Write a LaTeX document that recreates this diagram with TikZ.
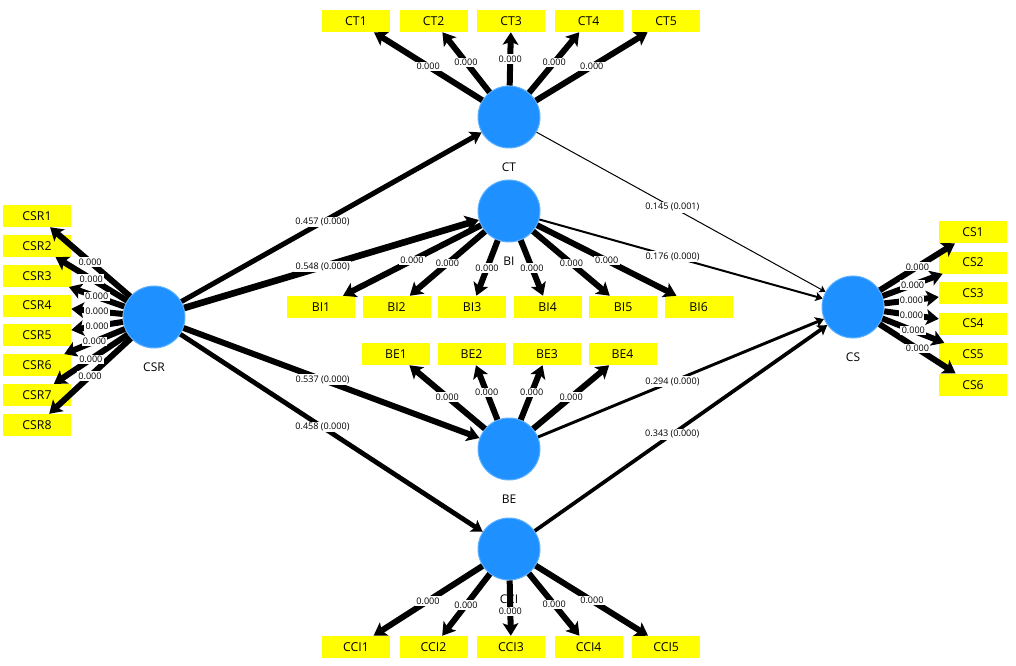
\documentclass[tikz,border=0pt]{standalone}
\usepackage{fontspec}
\setmainfont{Open Sans}
\usetikzlibrary{positioning,arrows.meta}

\definecolor{lvblue}{RGB}{30,144,255}
\definecolor{lvrim}{RGB}{95,178,255}
\definecolor{mvyellow}{RGB}{255,255,0}

\begin{document}
\begin{tikzpicture}[x=0.75pt, y=-0.75pt,
  lv/.style={circle,fill=lvblue,draw=lvrim,line width=0.75pt,minimum size=46.5pt,inner sep=0pt,
    label={[label distance=7.5pt,font=\fontsize{9}{10}\selectfont]below:#1}},
  mv/.style={rectangle,fill=mvyellow,minimum width=51pt,minimum height=16.5pt,inner sep=0pt,
    font=\fontsize{9.2}{10}\selectfont},
  tip/.style={-{Stealth[length=3.5pt 1.3,width=4.5pt 1.6,inset=0.8pt 0.3]}},
  ld/.style={tip,line width=4.5pt},
  val/.style={fill=white,inner sep=1pt,font=\fontsize{6.8}{7}\selectfont},
  tags/.style={every edge/.style={}}]
\useasboundingbox (0,0) rectangle (1016,666);
\node[lv=CSR] (CSR) at (154,317) {};
\node[lv=CT]  (CT)  at (509,117) {};
\node[lv=BI]  (BI)  at (509,211) {};
\node[lv=BE]  (BE)  at (509,449) {};
\node[lv=CCI] (CCI) at (509,549) {};
\node[lv=CS]  (CS)  at (853,307) {};
%
\node[mv]                     (CT1) at (356,21) {CT1};
\node[mv,right=6.75pt of CT1] (CT2) {CT2};
\node[mv,right=6.75pt of CT2] (CT3) {CT3};
\node[mv,right=6.75pt of CT3] (CT4) {CT4};
\node[mv,right=6.75pt of CT4] (CT5) {CT5};
%
\node[mv]                     (BI1) at (321,307) {BI1};
\node[mv,right=5.25pt of BI1] (BI2) {BI2};
\node[mv,right=5.25pt of BI2] (BI3) {BI3};
\node[mv,right=5.25pt of BI3] (BI4) {BI4};
\node[mv,right=5.25pt of BI4] (BI5) {BI5};
\node[mv,right=5.25pt of BI5] (BI6) {BI6};
%
\node[mv]                     (BE1) at (396,354) {BE1};
\node[mv,right=5.25pt of BE1] (BE2) {BE2};
\node[mv,right=5.25pt of BE2] (BE3) {BE3};
\node[mv,right=5.25pt of BE3] (BE4) {BE4};
%
\node[mv]                       (CCI1) at (356,647) {CCI1};
\node[mv,right=6.75pt of CCI1] (CCI2) {CCI2};
\node[mv,right=6.75pt of CCI2] (CCI3) {CCI3};
\node[mv,right=6.75pt of CCI3] (CCI4) {CCI4};
\node[mv,right=6.75pt of CCI4] (CCI5) {CCI5};
%
\node[mv]                     (CSR1) at (37,216) {CSR1};
\node[mv,below=5.5pt of CSR1] (CSR2) {CSR2};
\node[mv,below=5.5pt of CSR2] (CSR3) {CSR3};
\node[mv,below=5.5pt of CSR3] (CSR4) {CSR4};
\node[mv,below=5.5pt of CSR4] (CSR5) {CSR5};
\node[mv,below=5.5pt of CSR5] (CSR6) {CSR6};
\node[mv,below=5.5pt of CSR6] (CSR7) {CSR7};
\node[mv,below=5.5pt of CSR7] (CSR8) {CSR8};
%
\node[mv]                  (CS1) at (973,232) {CS1};
\node[mv,below=6pt of CS1] (CS2) {CS2};
\node[mv,below=6pt of CS2] (CS3) {CS3};
\node[mv,below=6pt of CS3] (CS4) {CS4};
\node[mv,below=6pt of CS4] (CS5) {CS5};
\node[mv,below=6pt of CS5] (CS6) {CS6};
%
\path[ld]
	(CT) edge (CT1)
	(CT) edge (CT2)
	(CT) edge (CT3)
	(CT) edge (CT4)
	(CT) edge (CT5)
%
	(BI) edge (BI1)
	(BI) edge (BI2)
	(BI) edge (BI3)
	(BI) edge (BI4)
	(BI) edge (BI5)
	(BI) edge (BI6)
%
	(BE) edge (BE1)
	(BE) edge (BE2)
	(BE) edge (BE3)
	(BE) edge (BE4)
%
	(CCI) edge (CCI1)
	(CCI) edge (CCI2)
	(CCI) edge (CCI3)
	(CCI) edge (CCI4)
	(CCI) edge (CCI5)
%
	(CSR) edge (CSR1)
	(CSR) edge (CSR2)
	(CSR) edge (CSR3)
	(CSR) edge (CSR4)
	(CSR) edge (CSR5)
	(CSR) edge (CSR6)
	(CSR) edge (CSR7)
	(CSR) edge (CSR8)
%
	(CS) edge (CS1)
	(CS) edge (CS2)
	(CS) edge (CS3)
	(CS) edge (CS4)
	(CS) edge (CS5)
	(CS) edge (CS6)
; %-loadings-%
\path[tip]
	(CSR) edge[line width=3.8pt]  (CT)
	(CSR) edge[line width=5pt]    (BI)
	(CSR) edge[line width=4.5pt]  (BE)
	(CSR) edge[line width=3.6pt]  (CCI)
%
	(CT)  edge[line width=0.75pt] (CS)
	(BI)  edge[line width=1.5pt]  (CS)
	(BE)  edge[line width=2.2pt]  (CS)
	(CCI) edge[line width=2.8pt]  (CS)
; %-paths-%
\path[tags]
	(CT) edge node[val] {0.000} (CT1)
	(CT) edge node[val] {0.000} (CT2)
	(CT) edge node[val] {0.000} (CT3)
	(CT) edge node[val] {0.000} (CT4)
	(CT) edge node[val] {0.000} (CT5)
%
	(BI) edge node[val] {0.000} (BI1)
	(BI) edge node[val] {0.000} (BI2)
	(BI) edge node[val] {0.000} (BI3)
	(BI) edge node[val] {0.000} (BI4)
	(BI) edge node[val] {0.000} (BI5)
	(BI) edge node[val] {0.000} (BI6)
%
	(BE) edge node[val] {0.000} (BE1)
	(BE) edge node[val] {0.000} (BE2)
	(BE) edge node[val] {0.000} (BE3)
	(BE) edge node[val] {0.000} (BE4)
%
	(CCI) edge node[val] {0.000} (CCI1)
	(CCI) edge node[val] {0.000} (CCI2)
	(CCI) edge node[val,pos=0.56] {0.000} (CCI3)
	(CCI) edge node[val] {0.000} (CCI4)
	(CCI) edge node[val] {0.000} (CCI5)
%
	(CSR) edge node[val] {0.000} (CSR1)
	(CSR) edge node[val] {0.000} (CSR2)
	(CSR) edge node[val] {0.000} (CSR3)
	(CSR) edge node[val] {0.000} (CSR4)
	(CSR) edge node[val] {0.000} (CSR5)
	(CSR) edge node[val] {0.000} (CSR6)
	(CSR) edge node[val] {0.000} (CSR7)
	(CSR) edge node[val] {0.000} (CSR8)
%
	(CS) edge node[val] {0.000} (CS1)
	(CS) edge node[val] {0.000} (CS2)
	(CS) edge node[val] {0.000} (CS3)
	(CS) edge node[val] {0.000} (CS4)
	(CS) edge node[val] {0.000} (CS5)
	(CS) edge node[val] {0.000} (CS6)
%
	(CSR) edge node[val,pos=0.47] {0.457 (0.000)} (CT)
	(CSR) edge node[val,pos=0.47] {0.548 (0.000)} (BI)
	(CSR) edge node[val,pos=0.47] {0.537 (0.000)} (BE)
	(CSR) edge node[val,pos=0.47] {0.458 (0.000)} (CCI)
	(CT)  edge node[val,pos=0.47] {0.145 (0.001)} (CS)
	(BI)  edge node[val,pos=0.47] {0.176 (0.000)} (CS)
	(BE)  edge node[val,pos=0.47] {0.294 (0.000)} (CS)
	(CCI) edge node[val,pos=0.47] {0.343 (0.000)} (CS)
; %-values-%
\end{tikzpicture}
\end{document}
